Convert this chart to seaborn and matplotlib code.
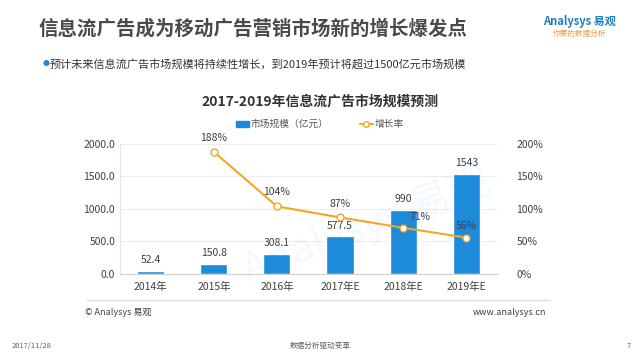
import matplotlib
matplotlib.use('Agg')
import matplotlib.pyplot as plt
import seaborn as sns
import pandas as pd
from matplotlib.lines import Line2D
from matplotlib.patches import Patch

# data
years = ['2014年', '2015年', '2016年', '2017年E', '2018年E', '2019年E']
market_size = [52.4, 150.8, 308.1, 577.5, 990, 1543]
size_labels = ['52.4', '150.8', '308.1', '577.5', '990', '1543']
growth_years = ['2015年', '2016年', '2017年E', '2018年E', '2019年E']
growth_rate = [188, 104, 87, 71, 56]

sns.set_style('white')
plt.rcParams['font.family'] = ['Noto Sans CJK SC', 'DejaVu Sans']

df = pd.DataFrame({'year': years, 'size': market_size})

fig = plt.figure(figsize=(6.4, 3.6), dpi=100)
ax = fig.add_axes([0.1875, 0.239, 0.589, 0.361])

bar_color = '#1C8BD9'
line_color = '#F5A623'
sns.barplot(data=df, x='year', y='size', color=bar_color, width=0.43,
            saturation=1, ax=ax, zorder=2)
ax.set_ylim(0, 2000)
ax.set_yticks([0, 500, 1000, 1500, 2000])
ax.set_yticklabels(['%.1f' % v for v in [0, 500, 1000, 1500, 2000]])
ax.grid(axis='y', color='#EDEDED', lw=0.8, zorder=0)
ax.set_xlabel('')
ax.set_ylabel('')
for s in ['top', 'right']:
    ax.spines[s].set_visible(False)
ax.spines['left'].set_color('#E6E6E6')
ax.spines['bottom'].set_color('#D0D0D0')
ax.tick_params(axis='both', labelsize=7.5, colors='#404040', length=0)
ax.tick_params(axis='x', pad=6)
for i, v in enumerate(market_size):
    ax.text(i, v + 90, size_labels[i], ha='center', va='bottom', fontsize=7.5, color='#404040')

ax2 = ax.twinx()
gx = [years.index(y) for y in growth_years]
ax2.plot(gx, growth_rate, color=line_color, lw=1.5, marker='o', ms=5,
         mfc='white', mec=line_color, mew=1, zorder=3)
ax2.set_ylim(0, 200)
ax2.set_yticks([0, 50, 100, 150, 200])
ax2.set_yticklabels(['%d%%' % v for v in [0, 50, 100, 150, 200]])
ax2.tick_params(axis='y', labelsize=7.5, colors='#404040', length=0, pad=14)
for s in ax2.spines.values():
    s.set_visible(False)
offsets = [(0, 10), (0, 10), (0, 10), (12, 8), (0, 8)]
for x, g, (dx, dy) in zip(gx, growth_rate, offsets):
    ax2.annotate('%d%%' % g, (x, g), xytext=(dx, dy), textcoords='offset points',
                 ha='center', va='center', fontsize=7.5, color='#404040')

# watermark
fig.text(0.37, 0.37, 'Analysys 易观', fontsize=30, color='#1C8BD9', alpha=0.05,
         rotation=20, ha='left', va='center')

# headers
fig.text(0.06, 0.92, '信息流广告成为移动广告营销市场新的增长爆发点', fontsize=14,
         fontweight='bold', color='#4A4A4A', va='center')
fig.text(0.905, 0.94, 'Analysys 易观', fontsize=8, color='#1C7FC6',
         fontweight='bold', ha='center', va='center')
fig.text(0.905, 0.905, '你要的数据分析', fontsize=5.5, color='#E8A040',
         ha='center', va='center')
fig.text(0.066, 0.822, '●', fontsize=5, color='#1C8BD9', va='center')
fig.text(0.078, 0.822, '预计未来信息流广告市场规模将持续性增长，到2019年预计将超过1500亿元市场规模',
         fontsize=8, color='#333333', va='center')
fig.text(0.5, 0.718, '2017-2019年信息流广告市场规模预测', fontsize=10,
         fontweight='bold', color='#333333', ha='center', va='center')

handles = [Patch(color=bar_color), Line2D([], [], color=line_color, lw=1.5,
           marker='o', ms=4, mfc='white', mec=line_color)]
fig.legend(handles, ['市场规模（亿元）', '增长率'], loc='center', bbox_to_anchor=(0.5, 0.655),
           ncol=2, frameon=False, fontsize=7, columnspacing=3.2, handlelength=1.3,
           handletextpad=0.2, handleheight=0.6, labelcolor='#555555')

# footer
fig.add_artist(Line2D([0.136, 0.86], [0.166, 0.166], color='#E0E0E0', lw=1))
fig.text(0.133, 0.132, '© Analysys 易观', fontsize=6.5, color='#404040', va='center')
fig.text(0.853, 0.132, 'www.analysys.cn', fontsize=6.5, color='#404040', va='center', ha='right')
fig.text(0.018, 0.038, '2017/11/28', fontsize=5.5, color='#606060', va='center')
fig.text(0.5, 0.038, '数据分析驱动变革', fontsize=5.5, color='#606060', va='center', ha='center')
fig.text(0.985, 0.038, '7', fontsize=5.5, color='#606060', va='center', ha='right')

fig.savefig('out.png', dpi=100)
